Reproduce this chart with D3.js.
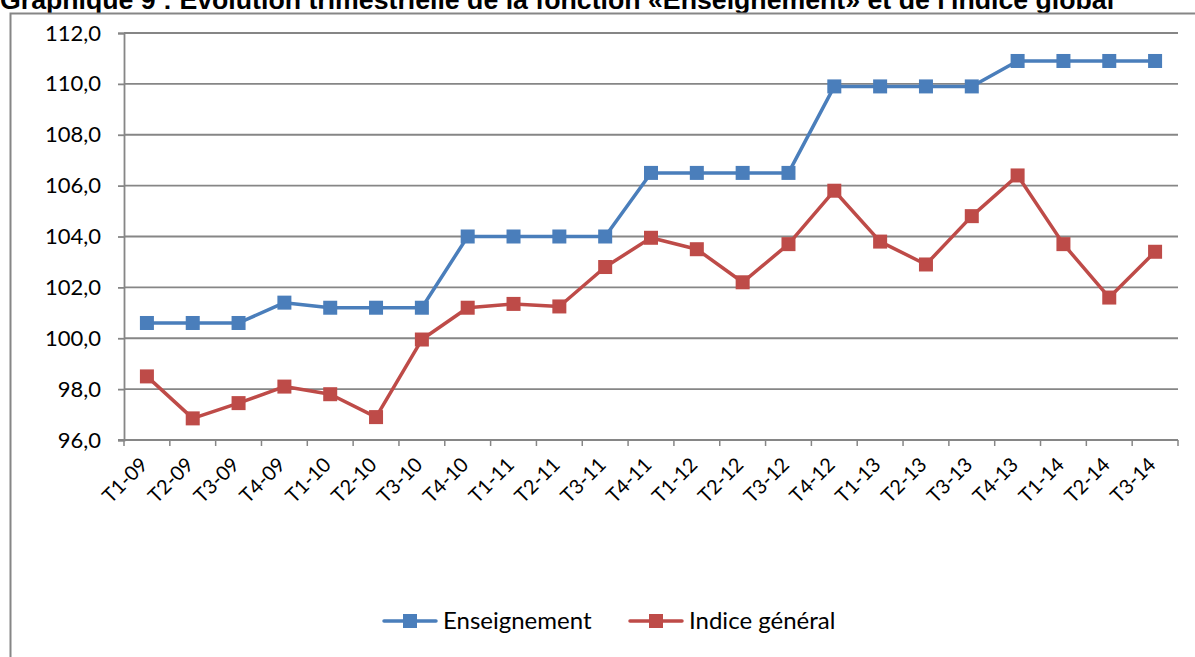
<!DOCTYPE html>
<html><head><meta charset="utf-8">
<script src="https://d3js.org/d3.v7.min.js"></script>
<style>body{margin:0;background:#fff;overflow:hidden}svg{display:block}</style>
</head><body>
<svg id="c" width="1195" height="657"></svg>
<script>
const categories = ["T1-09","T2-09","T3-09","T4-09","T1-10","T2-10","T3-10","T4-10","T1-11","T2-11","T3-11","T4-11","T1-12","T2-12","T3-12","T4-12","T1-13","T2-13","T3-13","T4-13","T1-14","T2-14","T3-14"];
const enseignement = [100.6,100.6,100.6,101.4,101.2,101.2,101.2,104.0,104.0,104.0,104.0,106.5,106.5,106.5,106.5,109.9,109.9,109.9,109.9,110.9,110.9,110.9,110.9];
const indiceGeneral = [98.5,96.85,97.45,98.1,97.8,96.9,99.95,101.2,101.35,101.25,102.8,103.95,103.5,102.2,103.7,105.8,103.8,102.9,104.8,106.4,103.7,101.6,103.4];
const yTicks = [96,98,100,102,104,106,108,110,112];
const seriesNames = ["Enseignement","Indice général"];
const title = "Graphique 9 : Evolution trimestrielle de la fonction «Enseignement» et de l'indice global";

const svg = d3.select("#c");
const L = 124, R = 1178, T = 33, B = 440;
const x = d3.scaleBand().domain(categories).range([L, R]);
const y = d3.scaleLinear().domain([96, 112]).range([B, T]);
const colors = ["#4a7ebb", "#be4b48"];
const gridColor = "#868686";
const fmt = v => d3.format(".1f")(v).replace(".", ",");
const calib = "Lato, 'Open Sans', sans-serif";

// title
svg.append("text").attr("x", 0).attr("y", 9)
  .attr("font-family", "'Liberation Sans', Arial, sans-serif").attr("font-weight", "bold")
  .attr("font-size", 26.7).attr("fill", "#000").text(title);

// frame
svg.append("path").attr("d", `M10.5,${657}V13.5H1195`).attr("fill", "none")
  .attr("stroke", gridColor).attr("stroke-width", 2);

// gridlines
svg.append("g").selectAll("line").data(yTicks.slice(1)).join("line")
  .attr("x1", L).attr("x2", R).attr("y1", d => y(d)).attr("y2", d => y(d))
  .attr("stroke", gridColor).attr("stroke-width", 1.8);

// y axis
const yAxis = svg.append("g").attr("transform", `translate(${L},0)`)
  .call(d3.axisLeft(y).tickValues(yTicks).tickFormat(fmt).tickSize(6).tickPadding(17));
yAxis.select(".domain").attr("stroke", gridColor).attr("stroke-width", 1.8);
yAxis.selectAll(".tick line").attr("stroke", gridColor).attr("stroke-width", 1.8);
yAxis.selectAll("text").attr("font-family", calib).attr("font-size", 22).attr("fill", "#000");

// x axis
const xAxis = svg.append("g").attr("transform", `translate(0,${B})`)
  .call(d3.axisBottom(x).tickSize(0).tickSizeOuter(0));
xAxis.select(".domain").attr("stroke", gridColor).attr("stroke-width", 1.8)
  .attr("d", `M${L-6},0H${R}`);
xAxis.selectAll(".tick text").attr("font-family", calib).attr("font-size", 20).attr("fill", "#000")
  .attr("text-anchor", "end")
  .attr("y", 0).attr("dy", "0.35em")
  .attr("transform", "translate(-3,21) rotate(-45)");
// x tick marks at band boundaries
const bounds = categories.map(c => x(c)).concat([R]);
svg.append("g").selectAll("line").data(bounds).join("line")
  .attr("x1", d => d).attr("x2", d => d).attr("y1", B).attr("y2", B + 6)
  .attr("stroke", gridColor).attr("stroke-width", 1.5);

// series
const series = [enseignement, indiceGeneral];
const cx = c => x(c) + x.bandwidth() / 2;
const line = d3.line().x((d, i) => cx(categories[i])).y(d => y(d));
series.forEach((s, k) => {
  svg.append("path").datum(s).attr("d", line).attr("fill", "none")
    .attr("stroke", colors[k]).attr("stroke-width", 3.5).attr("stroke-linejoin", "round");
  svg.append("g").selectAll("rect").data(s).join("rect")
    .attr("x", (d, i) => cx(categories[i]) - 7).attr("y", d => y(d) - 7)
    .attr("width", 14).attr("height", 14).attr("fill", colors[k]);
});

// legend
const legX = [384, 630];
seriesNames.forEach((n, k) => {
  const g = svg.append("g").attr("transform", `translate(${legX[k]},621)`);
  g.append("line").attr("x1", 0).attr("x2", 52).attr("stroke", colors[k]).attr("stroke-width", 3.5).attr("stroke-linecap", "round");
  g.append("rect").attr("x", 19).attr("y", -7).attr("width", 14).attr("height", 14).attr("fill", colors[k]);
  g.append("text").attr("x", 59).attr("y", 0).attr("dy", "0.35em").attr("font-family", calib)
    .attr("font-size", 24).attr("fill", "#000").text(n);
});
</script>
</body></html>
